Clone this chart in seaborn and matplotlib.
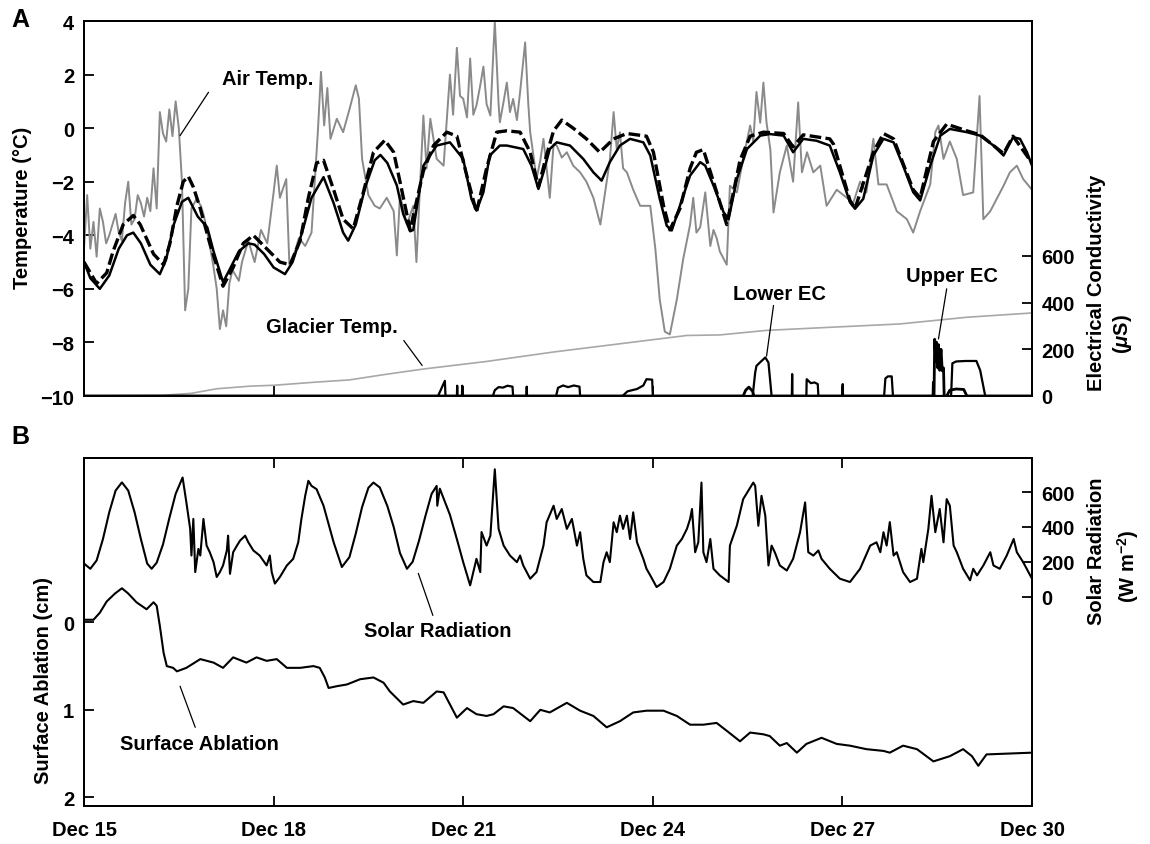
import numpy as np
import seaborn as sns
import matplotlib.pyplot as plt

# time axis: days since Dec 15 00:00
# ---- panel A ----
air_day = [0.00, 0.05, 0.10, 0.15, 0.20, 0.25, 0.30, 0.35, 0.40, 0.45,
           0.50, 0.55, 0.60, 0.65, 0.70, 0.75, 0.80, 0.85, 0.90, 0.95,
           1.00, 1.05, 1.10, 1.15, 1.20, 1.25, 1.30, 1.35, 1.40, 1.45,
           1.50, 1.55, 1.60, 1.65, 1.70, 1.78, 1.85, 1.90, 2.00, 2.05,
           2.10, 2.15, 2.20, 2.25, 2.30, 2.35, 2.45, 2.50, 2.60, 2.70,
           2.80, 2.90, 3.00, 3.05, 3.10, 3.20, 3.25, 3.30, 3.40, 3.50,
           3.60, 3.70, 3.75, 3.80, 3.85, 3.90, 4.00, 4.10, 4.20, 4.30,
           4.35, 4.40, 4.50, 4.60, 4.68, 4.79, 4.90, 4.95, 5.00, 5.11,
           5.21, 5.26, 5.32, 5.37, 5.42, 5.48, 5.58, 5.69, 5.79, 5.84,
           5.90, 5.95, 6.00, 6.06, 6.11, 6.16, 6.21, 6.27, 6.32, 6.37,
           6.43, 6.50, 6.56, 6.58, 6.64, 6.69, 6.74, 6.79, 6.85, 6.90,
           6.98, 7.03, 7.06, 7.11, 7.16, 7.22, 7.27, 7.32, 7.37, 7.43,
           7.48, 7.56, 7.64, 7.74, 7.85, 7.95, 8.06, 8.17, 8.27, 8.32,
           8.38, 8.43, 8.48, 8.53, 8.59, 8.69, 8.80, 8.96, 9.04, 9.11,
           9.19, 9.27, 9.38, 9.48, 9.59, 9.64, 9.69, 9.75, 9.83, 9.91,
           9.96, 10.01, 10.06, 10.17, 10.22, 10.33, 10.43, 10.54, 10.59, 10.64,
           10.70, 10.75, 10.80, 10.86, 10.91, 11.01, 11.12, 11.22, 11.30, 11.36,
           11.44, 11.54, 11.65, 11.75, 11.91, 12.07, 12.17, 12.28, 12.38, 12.49,
           12.57, 12.70, 12.86, 13.02, 13.12, 13.23, 13.39, 13.47, 13.52, 13.60,
           13.70, 13.81, 13.91, 14.07, 14.17, 14.23, 14.34, 14.44, 14.55, 14.65,
           14.76, 14.86, 15.00]
air_temp = [-4.5, -2.5, -4.5, -3.5, -4.8, -3.0, -3.5, -4.3, -4.0, -3.6,
            -3.2, -3.9, -4.2, -2.8, -2.0, -3.6, -3.4, -2.5, -2.8, -3.3,
            -2.6, -3.1, -1.5, -3.0, 0.6, -0.2, -0.5, 0.7, -0.3, 1.0,
            0.0, -2.0, -6.8, -6.0, -3.0, -2.65, -2.9, -3.3, -4.5, -5.2,
            -6.0, -7.5, -6.8, -7.4, -5.8, -5.3, -5.7, -5.0, -4.2, -5.0,
            -3.8, -4.3, -2.4, -1.4, -2.6, -1.9, -5.1, -4.9, -4.1, -4.4,
            -3.9, -0.15, 2.1, 0.1, 1.5, -0.4, 0.35, -0.15, 0.7, 1.6,
            1.1, -1.15, -2.5, -2.9, -3.0, -2.6, -3.1, -4.75, -2.5, -3.6,
            -2.9, -5.0, -2.0, 0.47, -1.5, 0.35, -1.15, -1.4, 2.0, 0.5,
            3.0, 1.2, 1.1, 0.4, 2.6, 0.5, 0.85, 1.6, 2.3, 0.9,
            0.47, 4.0, 0.9, 0.22, 1.0, 1.7, 0.6, 1.09, 0.3, 1.34,
            3.2, 0.9, -0.15, -1.0, -1.9, -1.2, -0.4, -1.5, -2.6, -0.6,
            -0.65, -1.1, -0.9, -1.4, -1.65, -2.0, -2.6, -3.6, -2.0, -1.2,
            0.6, -0.8, -0.15, -1.5, -1.65, -2.3, -2.9, -2.9, -4.5, -6.4,
            -7.6, -7.7, -6.4, -4.9, -3.6, -2.6, -3.9, -3.7, -2.4, -4.4,
            -3.8, -4.1, -4.6, -5.1, -2.15, -2.4, -1.15, 0.1, -0.5, 1.35,
            0.2, 1.7, 0.2, -0.8, -3.15, -1.65, -0.65, -2.0, 0.96, -1.65,
            -0.9, -1.65, -1.4, -2.9, -2.3, -2.6, -2.8, -2.0, -2.4, -0.4,
            -2.1, -2.1, -3.1, -3.4, -3.9, -3.1, -2.1, -0.15, 0.1, -1.15,
            -0.5, -1.15, -2.5, -2.4, 1.2, -3.4, -3.1, -2.65, -2.15, -1.65,
            -1.4, -1.9, -2.3]

snow_day = [0.00, 0.10, 0.25, 0.40, 0.55, 0.68, 0.78, 0.90, 1.05, 1.20,
            1.30, 1.42, 1.55, 1.65, 1.80, 1.95, 2.05, 2.20, 2.30, 2.45,
            2.60, 2.70, 2.85, 3.00, 3.18, 3.30, 3.45, 3.60, 3.79, 3.95,
            4.10, 4.18, 4.30, 4.45, 4.60, 4.69, 4.80, 4.95, 5.05, 5.16,
            5.21, 5.37, 5.58, 5.79, 6.00, 6.13, 6.21, 6.32, 6.42, 6.58,
            6.69, 6.95, 7.08, 7.19, 7.27, 7.37, 7.48, 7.69, 7.90, 8.06,
            8.19, 8.32, 8.48, 8.64, 8.85, 8.96, 9.11, 9.22, 9.30, 9.43,
            9.59, 9.75, 9.83, 9.96, 10.12, 10.20, 10.33, 10.49, 10.70, 10.85,
            11.07, 11.22, 11.38, 11.59, 11.80, 11.96, 12.12, 12.20, 12.33, 12.49,
            12.65, 12.81, 12.96, 13.12, 13.23, 13.39, 13.55, 13.70, 13.97, 14.18,
            14.39, 14.55, 14.70, 14.81, 14.92, 15.00]
snow_temp = [-5.0, -5.6, -6.0, -5.5, -4.5, -4.0, -3.9, -4.3, -5.1, -5.45,
             -4.9, -3.6, -2.75, -2.6, -3.3, -3.7, -4.6, -5.75, -5.3, -4.6,
             -4.3, -4.35, -4.7, -5.2, -5.45, -5.0, -3.9, -2.6, -1.83, -2.8,
             -3.9, -4.2, -3.6, -2.2, -1.2, -1.0, -1.3, -2.14, -3.2, -3.85,
             -3.8, -1.4, -0.65, -0.53, -1.15, -2.64, -3.08, -2.39, -1.02, -0.65,
             -0.65, -0.78, -1.40, -2.27, -1.65, -0.78, -0.53, -0.65, -1.15, -1.65,
             -1.96, -1.27, -0.65, -0.40, -0.53, -1.02, -2.64, -3.64, -3.82, -2.89,
             -1.77, -1.27, -1.40, -2.14, -3.14, -3.39, -1.90, -0.78, -0.28, -0.22,
             -0.28, -0.90, -0.40, -0.47, -0.65, -1.65, -2.77, -3.01, -2.64, -1.02,
             -0.40, -0.53, -1.40, -2.39, -2.70, -1.40, -0.28, -0.03, -0.15, -0.28,
             -0.65, -1.02, -0.34, -0.40, -0.90, -1.40]

ice_day = [0.00, 0.20, 0.36, 0.46, 0.62, 0.78, 0.89, 1.10, 1.26, 1.36,
           1.47, 1.57, 1.65, 1.73, 1.84, 1.99, 2.20, 2.36, 2.52, 2.68,
           2.89, 3.10, 3.26, 3.42, 3.55, 3.68, 3.79, 3.95, 4.10, 4.26,
           4.42, 4.58, 4.76, 4.90, 5.00, 5.16, 5.37, 5.53, 5.74, 5.90,
           6.06, 6.21, 6.37, 6.53, 6.69, 6.90, 7.06, 7.19, 7.32, 7.43,
           7.56, 7.74, 7.95, 8.16, 8.38, 8.59, 8.90, 9.01, 9.17, 9.27,
           9.43, 9.59, 9.69, 9.80, 9.96, 10.17, 10.38, 10.54, 10.75, 11.07,
           11.22, 11.38, 11.80, 11.86, 12.12, 12.20, 12.49, 12.65, 12.81, 13.12,
           13.23, 13.44, 13.65, 13.97, 14.18, 14.55, 14.70, 15.00]
ice_temp = [-5.0, -5.8, -5.4, -4.6, -3.6, -3.26, -3.6, -4.7, -5.1, -4.3,
            -2.9, -2.0, -1.8, -2.2, -3.0, -4.3, -5.9, -5.2, -4.3, -4.0,
            -4.5, -5.0, -5.1, -4.2, -2.6, -1.3, -1.2, -2.3, -3.4, -3.76,
            -2.4, -0.9, -0.45, -0.9, -2.0, -3.8, -1.6, -0.65, -0.15, -0.3,
            -1.8, -3.14, -1.5, -0.15, -0.1, -0.15, -0.9, -2.2, -1.0, -0.1,
            0.3, 0.0, -0.4, -0.9, -0.4, -0.2, -0.3, -0.9, -2.9, -3.8,
            -3.0, -1.5, -0.9, -0.8, -2.0, -3.6, -1.2, -0.3, -0.15, -0.2,
            -0.7, -0.25, -0.4, -0.6, -2.7, -3.0, -0.9, -0.2, -0.4, -2.3,
            -2.6, -0.5, 0.15, -0.1, -0.25, -0.95, -0.3, -1.3]

glac_day = [0.0, 1.2, 1.7, 2.1, 2.64, 3.0, 3.68, 4.2, 4.75, 5.38,
            6.37, 7.42, 8.48, 9.54, 10.06, 10.8, 11.85, 12.91, 13.97, 15.0]
glac_temp = [-10.0, -9.98, -9.9, -9.73, -9.63, -9.6, -9.48, -9.4, -9.2, -8.99,
             -8.71, -8.36, -8.05, -7.74, -7.72, -7.55, -7.43, -7.31, -7.06, -6.9]

lower_day = [0, 5.60, 5.61, 5.71, 5.72, 5.90, 5.905, 5.91, 5.98, 5.985,
             5.99, 6.47, 6.50, 6.56, 6.63, 6.70, 6.78, 6.79, 7.00, 7.005,
             7.01, 7.47, 7.50, 7.58, 7.66, 7.75, 7.84, 7.85, 8.52, 8.60,
             8.75, 8.85, 8.90, 8.99, 9.00, 10.58, 10.62, 10.64, 10.72, 10.78,
             10.83, 10.88, 11.20, 11.205, 11.21, 11.43, 11.435, 11.50, 11.56, 11.61,
             11.62, 12.00, 12.005, 12.01, 12.66, 12.68, 12.72, 12.78, 12.80, 13.43,
             13.435, 13.44, 13.72, 13.74, 13.80, 13.95, 14.12, 14.18, 14.26, 15.00]
lower_ec = [0, 0, 5, 65, 0, 0, 44, 0, 0, 44,
            0, 0, 25, 38, 36, 44, 40, 0, 0, 40,
            0, 0, 35, 45, 38, 45, 40, 0, 0, 20,
            30, 45, 72, 70, 0, 0, 100, 129, 150, 165,
            143, 0, 0, 94, 0, 0, 72, 55, 58, 51,
            0, 0, 51, 0, 0, 75, 84, 84, 0, 0,
            60, 0, 0, 140, 148, 150, 150, 110, 0, 0]

upper_day = [0, 10.43, 10.47, 10.52, 10.58, 10.60, 13.45, 13.46, 13.48, 13.49,
             13.51, 13.52, 13.54, 13.56, 13.58, 13.60, 13.61, 13.65, 13.70, 13.80,
             13.92, 13.97, 15.00]
upper_ec = [0, 0, 25, 38, 20, 0, 0, 243, 150, 230,
            120, 220, 110, 200, 108, 120, 0, 0, 25, 30,
            28, 0, 0]

# ---- panel B ----
solar_day = [0.00, 0.10, 0.20, 0.30, 0.40, 0.50, 0.60, 0.70, 0.80, 0.90,
             1.00, 1.07, 1.15, 1.25, 1.35, 1.45, 1.56, 1.62, 1.68, 1.70,
             1.73, 1.76, 1.81, 1.84, 1.89, 1.94, 1.99, 2.05, 2.10, 2.15,
             2.20, 2.26, 2.28, 2.31, 2.36, 2.42, 2.47, 2.55, 2.60, 2.68,
             2.78, 2.89, 2.94, 2.97, 3.02, 3.10, 3.21, 3.31, 3.39, 3.44,
             3.50, 3.55, 3.60, 3.68, 3.79, 3.95, 4.08, 4.20, 4.30, 4.40,
             4.50, 4.58, 4.68, 4.80, 4.90, 5.00, 5.11, 5.20, 5.30, 5.40,
             5.50, 5.58, 5.59, 5.63, 5.79, 5.90, 6.00, 6.11, 6.21, 6.27,
             6.29, 6.37, 6.43, 6.50, 6.56, 6.64, 6.74, 6.85, 6.90, 6.95,
             7.06, 7.16, 7.27, 7.32, 7.43, 7.48, 7.56, 7.64, 7.72, 7.80,
             7.85, 7.90, 7.95, 8.06, 8.17, 8.22, 8.27, 8.32, 8.38, 8.43,
             8.48, 8.53, 8.59, 8.64, 8.69, 8.75, 8.85, 8.90, 8.96, 9.06,
             9.17, 9.27, 9.38, 9.46, 9.54, 9.59, 9.62, 9.67, 9.72, 9.77,
             9.80, 9.85, 9.91, 9.96, 10.06, 10.20, 10.22, 10.33, 10.43, 10.59,
             10.62, 10.67, 10.72, 10.78, 10.83, 10.88, 10.93, 11.01, 11.12, 11.22,
             11.33, 11.41, 11.46, 11.54, 11.62, 11.67, 11.80, 11.96, 12.12, 12.28,
             12.44, 12.54, 12.60, 12.65, 12.70, 12.75, 12.81, 12.86, 12.96, 13.07,
             13.18, 13.25, 13.28, 13.36, 13.41, 13.47, 13.54, 13.60, 13.65, 13.70,
             13.76, 13.81, 13.91, 14.02, 14.07, 14.13, 14.23, 14.34, 14.39, 14.49,
             14.60, 14.71, 14.76, 14.86, 15.00]
solar_wm2 = [190, 160, 208, 331, 485, 609, 656, 609, 485, 331,
             190, 160, 195, 300, 450, 590, 684, 541, 389, 236,
             446, 141, 274, 236, 446, 293, 255, 198, 113, 141,
             179, 265, 350, 131, 255, 293, 322, 350, 312, 265,
             236, 179, 236, 141, 75, 113, 179, 217, 312, 446,
             579, 665, 636, 617, 522, 312, 170, 227, 362, 514,
             625, 655, 627, 520, 400, 250, 160, 200, 320, 460,
             590, 636, 522, 620, 470, 330, 198, 65, 217, 141,
             371, 293, 350, 731, 389, 293, 236, 198, 236, 179,
             103, 141, 293, 427, 522, 446, 503, 389, 446, 293,
             370, 217, 122, 84, 84, 198, 255, 198, 427, 370,
             465, 389, 465, 331, 484, 312, 217, 160, 122, 55,
             84, 160, 293, 331, 389, 446, 503, 255, 312, 655,
             255, 198, 331, 160, 122, 84, 293, 408, 560, 655,
             636, 407, 579, 465, 179, 293, 255, 179, 150, 217,
             370, 541, 255, 236, 265, 217, 160, 103, 84, 160,
             293, 312, 255, 370, 293, 428, 236, 255, 141, 84,
             103, 274, 198, 389, 579, 370, 503, 312, 560, 522,
             293, 255, 160, 94, 160, 122, 179, 255, 179, 160,
             236, 331, 255, 198, 103]

abl_day = [0.02, 0.15, 0.25, 0.36, 0.49, 0.60, 0.70, 0.83, 0.99, 1.10,
           1.15, 1.20, 1.26, 1.31, 1.41, 1.47, 1.62, 1.84, 2.05, 2.20,
           2.36, 2.57, 2.73, 2.89, 3.05, 3.21, 3.42, 3.63, 3.73, 3.81,
           3.87, 4.00, 4.16, 4.37, 4.58, 4.74, 4.84, 5.05, 5.21, 5.37,
           5.58, 5.69, 5.90, 6.06, 6.21, 6.37, 6.48, 6.64, 6.79, 7.06,
           7.22, 7.37, 7.64, 7.85, 8.06, 8.27, 8.48, 8.69, 8.90, 9.17,
           9.38, 9.59, 9.80, 10.01, 10.17, 10.38, 10.54, 10.75, 10.85, 11.01,
           11.12, 11.28, 11.43, 11.67, 11.91, 12.12, 12.38, 12.65, 12.75, 12.96,
           13.18, 13.44, 13.70, 13.91, 14.05, 14.15, 14.28, 15.00]
abl_cm = [-0.03, -0.03, -0.11, -0.24, -0.33, -0.39, -0.33, -0.23, -0.15, -0.23,
          -0.19, 0.04, 0.35, 0.50, 0.52, 0.56, 0.52, 0.42, 0.46, 0.52,
          0.40, 0.46, 0.40, 0.44, 0.42, 0.52, 0.52, 0.50, 0.52, 0.63,
          0.75, 0.73, 0.71, 0.65, 0.63, 0.69, 0.79, 0.94, 0.90, 0.92,
          0.79, 0.80, 1.09, 0.98, 1.05, 1.07, 1.05, 0.96, 0.98, 1.13,
          1.00, 1.03, 0.92, 1.01, 1.07, 1.20, 1.13, 1.03, 1.01, 1.01,
          1.07, 1.17, 1.17, 1.15, 1.24, 1.36, 1.26, 1.28, 1.30, 1.41,
          1.38, 1.49, 1.39, 1.32, 1.39, 1.41, 1.45, 1.47, 1.49, 1.41,
          1.45, 1.59, 1.53, 1.45, 1.53, 1.64, 1.51, 1.49]

date_ticks = [0, 3, 6, 9, 12, 15]
date_labels = ['Dec 15', 'Dec 18', 'Dec 21', 'Dec 24', 'Dec 27', 'Dec 30']

sns.set_theme(style="ticks")
plt.rcParams['font.family'] = ['Liberation Sans', 'DejaVu Sans']
plt.rcParams['font.weight'] = 'bold'
plt.rcParams['mathtext.fontset'] = 'custom'
plt.rcParams['mathtext.rm'] = 'Liberation Sans:bold'
plt.rcParams['mathtext.it'] = 'Liberation Sans:italic'
plt.rcParams['axes.edgecolor'] = 'black'
plt.rcParams['axes.linewidth'] = 1.4
plt.rcParams['text.color'] = 'black'
plt.rcParams['axes.labelcolor'] = 'black'
plt.rcParams['xtick.color'] = 'black'
plt.rcParams['ytick.color'] = 'black'

W, H = 1150, 845
fig = plt.figure(figsize=(W / 100, H / 100), dpi=100)


def box(l, t, r, b):
    return [l / W, 1 - b / H, (r - l) / W, (b - t) / H]


ax1 = fig.add_axes(box(84, 22, 1032, 397))
ax1r = ax1.twinx()
ax2 = fig.add_axes(box(84, 459, 1032, 807))
ax2r = ax2.twinx()

line = dict(estimator=None, sort=False, legend=False)

# panel A
sns.lineplot(x=air_day, y=air_temp, ax=ax1, color='#8a8a8a', linewidth=1.4, **line)
sns.lineplot(x=glac_day, y=glac_temp, ax=ax1, color='#a8a8a8', linewidth=1.2, **line)
sns.lineplot(x=ice_day, y=ice_temp, ax=ax1, color='black', linewidth=2.4, **line)
ax1.lines[-1].set_dashes([3.5, 1.3])
sns.lineplot(x=snow_day, y=snow_temp, ax=ax1, color='black', linewidth=1.8, **line)
sns.lineplot(x=lower_day, y=lower_ec, ax=ax1r, color='black', linewidth=1.6, **line)
sns.lineplot(x=upper_day, y=upper_ec, ax=ax1r, color='black', linewidth=2.0, **line)

# panel B
sns.lineplot(x=solar_day, y=solar_wm2, ax=ax2r, color='black', linewidth=1.5, **line)
sns.lineplot(x=abl_day, y=abl_cm, ax=ax2, color='black', linewidth=1.5, **line)

for ax in (ax1, ax2):
    ax.set_xlim(0, 15)
    ax.set_xticks(date_ticks)
    ax.set_xlabel('')
    ax.set_ylabel('')
for ax in (ax1r, ax2r):
    ax.set_ylabel('')

ax1.set_ylim(-10, 4)
ax1.set_yticks(range(-10, 5, 2))
ax1r.set_ylim(0, 1606)
ax1r.set_yticks([0, 200, 400, 600])
ax2.set_ylim(2.10, -1.88)
ax2.set_yticks([0, 1, 2])
ax2r.set_ylim(-1202, 796)
ax2r.set_yticks([0, 200, 400, 600])

for ax in (ax1, ax1r, ax2, ax2r):
    ax.tick_params(direction='in', length=7, width=1.3, labelsize=14.5,
                   pad=7, colors='black')
    for s in ax.spines.values():
        s.set_linewidth(1.4)
        s.set_color('black')
ax1.tick_params(axis='x', bottom=True, top=False, labelbottom=False)
ax2.tick_params(axis='x', bottom=True, top=True, labelbottom=True, pad=10)
ax2.set_xticklabels(date_labels)

# annotations
lead = dict(arrowstyle='-', color='black', lw=0.9, shrinkA=0, shrinkB=0)
fs = 14.5
ax1.text(2.90, 1.84, 'Air Temp.', ha='center', va='center', fontsize=fs)
ax1.annotate('', xy=(1.52, -0.28), xytext=(1.97, 1.34), arrowprops=lead)
ax1.text(3.92, -7.42, 'Glacier Temp.', ha='center', va='center', fontsize=fs)
ax1.annotate('', xy=(5.35, -8.86), xytext=(5.06, -7.93), arrowprops=lead)
ax1.text(11.01, -6.19, 'Lower EC', ha='center', va='center', fontsize=fs)
ax1.annotate('', xy=(10.80, -8.51), xytext=(10.91, -6.62), arrowprops=lead)
ax1.text(13.73, -5.51, 'Upper EC', ha='center', va='center', fontsize=fs)
ax1.annotate('', xy=(13.52, -7.87), xytext=(13.65, -6.0), arrowprops=lead)

ax2.text(5.60, 0.09, 'Solar Radiation', ha='center', va='center', fontsize=fs)
ax2.annotate('', xy=(5.52, -0.08), xytext=(5.29, -0.56), arrowprops=lead)
ax2.text(1.82, 1.38, 'Surface Ablation', ha='center', va='center', fontsize=fs)
ax2.annotate('', xy=(1.76, 1.20), xytext=(1.52, 0.73), arrowprops=lead)

# axis titles and panel letters
lab = dict(rotation=90, ha='center', va='center', fontsize=14.5)
fig.text(23 / W, 1 - 208 / H, 'Temperature (°C)', **lab)
fig.text(44 / W, 1 - 681 / H, 'Surface Ablation (cm)', **lab)
fig.text(1096 / W, 1 - 283 / H, 'Electrical Conductivity', **lab)
fig.text(1122 / W, 1 - 334 / H, r'($\mu$S)', **lab)
fig.text(1096 / W, 1 - 551 / H, 'Solar Radiation', **lab)
fig.text(1128 / W, 1 - 566 / H, r'(W m$^{-2}$)', **lab)
fig.text(20 / W, 1 - 20 / H, 'A', ha='center', va='center', fontsize=18)
fig.text(20 / W, 1 - 437 / H, 'B', ha='center', va='center', fontsize=18)

fig.savefig('out.png', dpi=100)
